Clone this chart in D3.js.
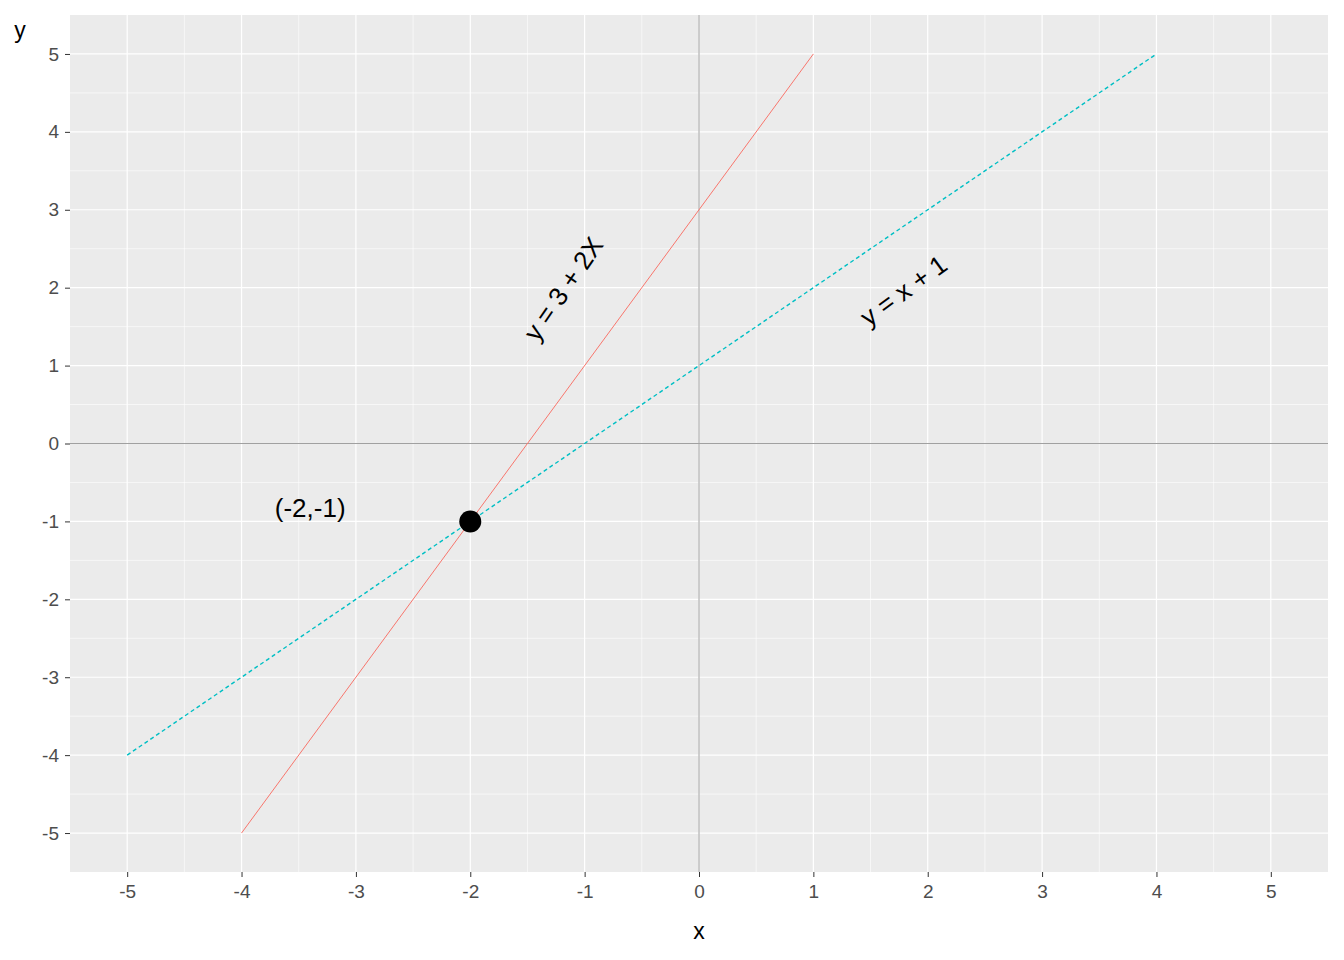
<!DOCTYPE html>
<html><head><meta charset="utf-8">
<script src="https://cdn.jsdelivr.net/npm/d3@7"></script>
<style>body{margin:0;background:#fff}text{font-family:"Liberation Sans",Arial,sans-serif}</style>
</head><body>
<svg id="chart" width="1344" height="960"></svg>
<script>
const ticks = [-5,-4,-3,-2,-1,0,1,2,3,4,5];
const minorTicks = [-4.5,-3.5,-2.5,-1.5,-0.5,0.5,1.5,2.5,3.5,4.5];
const redLineX = [-4, 1];          // y = 3 + 2x
const tealLineX = [-5, 4];         // y = x + 1
const point = {x: -2, y: -1, label: "(-2,-1)", lx: -3.4, ly: -0.85};
const labels = [
  {text: "y = 3 + 2X", x: -1.17, y: 1.97, angle: -55.5},
  {text: "y = x + 1", x: 1.8, y: 1.94, angle: -36}
];

const svg = d3.select("#chart");
const L = 70, R = 1328, T = 15, B = 872;
const x = d3.scaleLinear().domain([-5.5, 5.5]).range([L, R]);
const y = d3.scaleLinear().domain([-5.5, 5.5]).range([B, T]);

svg.append("rect").attr("x", L).attr("y", T).attr("width", R - L).attr("height", B - T).attr("fill", "#ebebeb");

const g = svg.append("g");
minorTicks.forEach(t => {
  g.append("line").attr("x1", x(t)).attr("x2", x(t)).attr("y1", T).attr("y2", B).attr("stroke", "#fff").attr("stroke-width", 0.6);
  g.append("line").attr("y1", y(t)).attr("y2", y(t)).attr("x1", L).attr("x2", R).attr("stroke", "#fff").attr("stroke-width", 0.6);
});
ticks.forEach(t => {
  g.append("line").attr("x1", x(t)).attr("x2", x(t)).attr("y1", T).attr("y2", B).attr("stroke", "#fff").attr("stroke-width", 1.2);
  g.append("line").attr("y1", y(t)).attr("y2", y(t)).attr("x1", L).attr("x2", R).attr("stroke", "#fff").attr("stroke-width", 1.2);
});

// reference axes
g.append("line").attr("x1", x(0)).attr("x2", x(0)).attr("y1", T).attr("y2", B).attr("stroke", "#a0a0a0");
g.append("line").attr("y1", y(0)).attr("y2", y(0)).attr("x1", L).attr("x2", R).attr("stroke", "#a0a0a0");

const line = d3.line().x(d => x(d[0])).y(d => y(d[1]));
g.append("path").datum(redLineX.map(v => [v, 3 + 2 * v])).attr("d", line)
  .attr("stroke", "#f8766d").attr("fill", "none").attr("stroke-width", 1);
g.append("path").datum(tealLineX.map(v => [v, v + 1])).attr("d", line)
  .attr("stroke", "#00bfc4").attr("fill", "none").attr("stroke-width", 1.4).attr("stroke-dasharray", "4,3");

g.append("circle").attr("cx", x(point.x)).attr("cy", y(point.y)).attr("r", 11).attr("fill", "#000");
g.append("text").attr("x", x(point.lx)).attr("y", y(point.ly)).attr("text-anchor", "middle")
  .attr("dominant-baseline", "middle").attr("font-size", 26).text(point.label);

labels.forEach(l => {
  g.append("text").attr("transform", `translate(${x(l.x)},${y(l.y)}) rotate(${l.angle})`)
    .attr("text-anchor", "middle").attr("dominant-baseline", "middle").attr("font-size", 26).text(l.text);
});

// axes
const fmt = d => String(d);
const xa = svg.append("g").attr("transform", `translate(0,${B})`)
  .call(d3.axisBottom(x).tickValues(ticks).tickFormat(fmt).tickSize(5).tickPadding(8));
const ya = svg.append("g").attr("transform", `translate(${L},0)`)
  .call(d3.axisLeft(y).tickValues(ticks).tickFormat(fmt).tickSize(5).tickPadding(6));
[xa, ya].forEach(a => {
  a.select(".domain").remove();
  a.selectAll(".tick line").attr("stroke", "#333");
  a.selectAll(".tick text").attr("fill", "#4d4d4d").attr("font-size", 19).style("font-family", "Liberation Sans, Arial, sans-serif");
});

svg.append("text").attr("x", x(0)).attr("y", 939).attr("text-anchor", "middle").attr("font-size", 23).text("x");
svg.append("text").attr("x", 20).attr("y", 38).attr("text-anchor", "middle").attr("font-size", 23).text("y");
</script>
</body></html>
